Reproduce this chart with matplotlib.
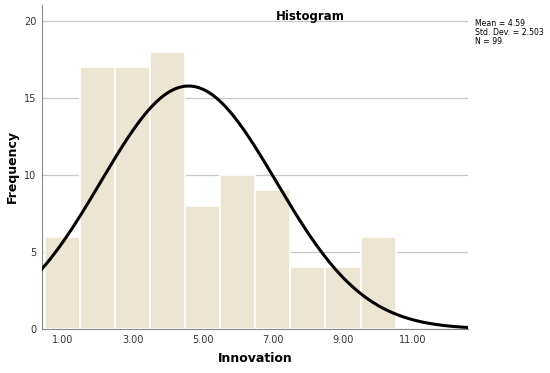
import numpy as np
import matplotlib.pyplot as plt

# Histogram of Innovation scores
bin_centers = [1, 2, 3, 4, 5, 6, 7, 8, 9, 10]
counts = [6, 17, 17, 18, 8, 10, 9, 4, 4, 6]
mean, sd, n = 4.59, 2.503, 99
xticks = [1, 3, 5, 7, 9, 11]
yticks = [0, 5, 10, 15, 20]

fig = plt.figure(figsize=(5.5, 3.73), dpi=100)
ax = fig.add_axes([0.076, 0.118, 0.775, 0.869])

ax.bar(bin_centers, counts, width=1.0, color='#ebe5d2', edgecolor='white',
       linewidth=1.2, zorder=2)

# normal curve scaled to counts (bin width 1)
xs = np.linspace(0.4, 12.57, 300)
ys = n / (sd * np.sqrt(2 * np.pi)) * np.exp(-0.5 * ((xs - mean) / sd) ** 2)
ax.plot(xs, ys, color='black', linewidth=2.2, zorder=3)

ax.set_xlim(0.4, 12.57)
ax.set_ylim(0, 21.05)
ax.set_xticks(xticks)
ax.set_xticklabels([f'{t:.2f}' for t in xticks])
ax.set_yticks(yticks)
ax.yaxis.grid(True, color='#c8c8c8', linewidth=0.9, zorder=0)
ax.set_axisbelow(True)
ax.tick_params(length=0, labelsize=7, colors='#333333', pad=4)

for s in ['top', 'right']:
    ax.spines[s].set_visible(False)
ax.spines['left'].set_color('#888888')
ax.spines['bottom'].set_color('#888888')

ax.set_xlabel('Innovation', fontsize=9, fontweight='bold')
ax.xaxis.set_label_coords(0.5, -0.072)
ax.set_ylabel('Frequency', fontsize=9, fontweight='bold')
ax.yaxis.set_label_coords(-0.054, 0.5)
ax.text(0.63, 0.963, 'Histogram', transform=ax.transAxes, fontsize=8.5,
        fontweight='bold', ha='center', va='center')

fig.text(0.864, 0.95, f'Mean = {mean}\nStd. Dev. = {sd}\nN = {n}',
         fontsize=5.6, va='top', ha='left', linespacing=1.0)

fig.savefig('out.png', dpi=100)
